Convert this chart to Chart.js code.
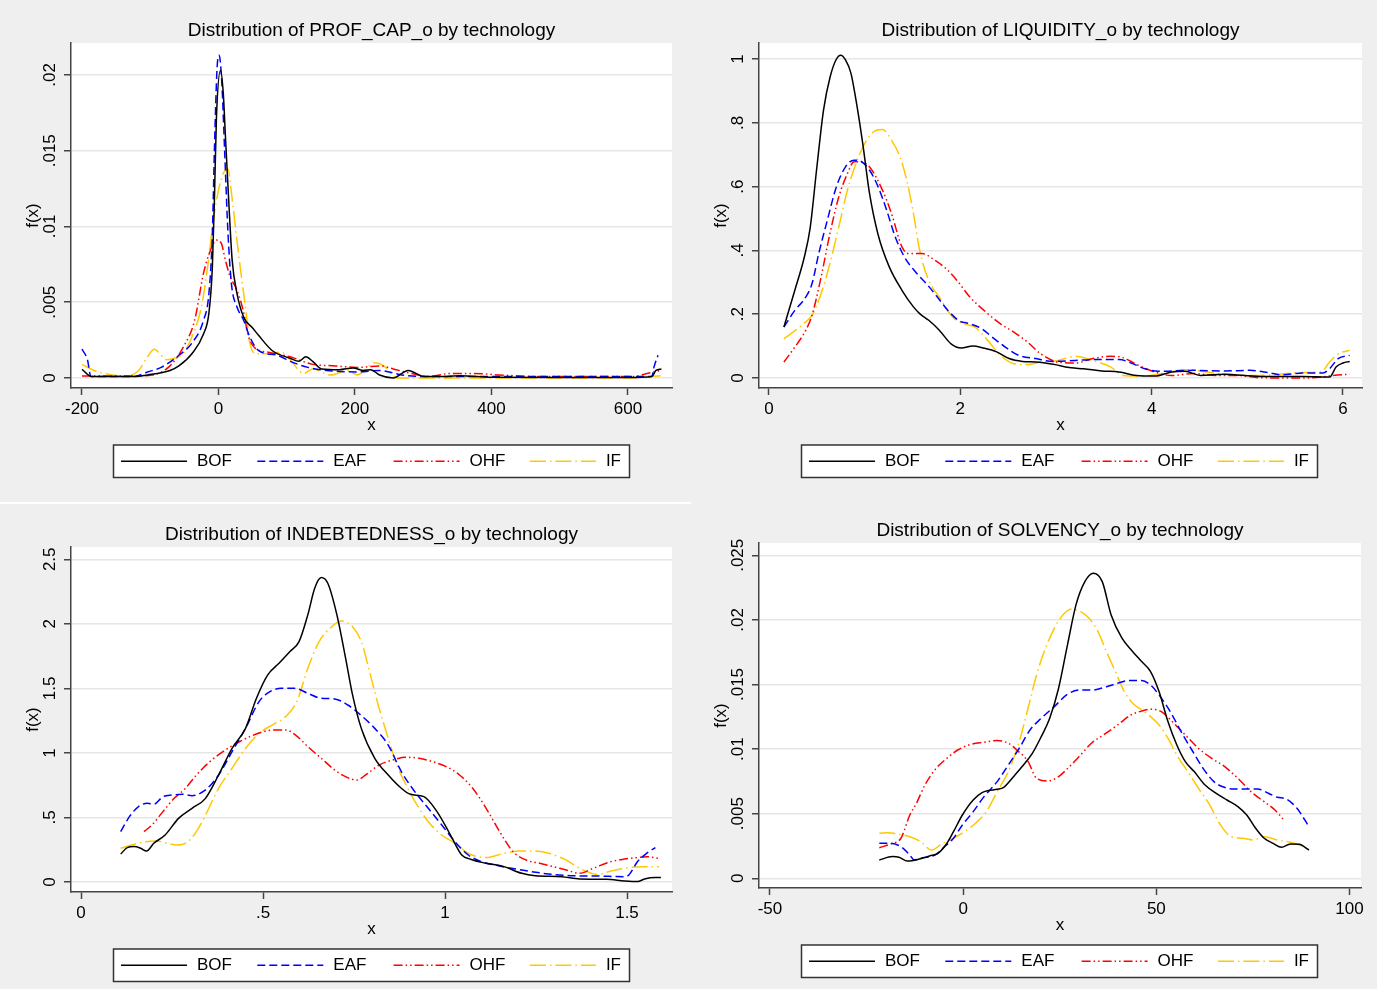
<!DOCTYPE html>
<html><head><meta charset="utf-8">
<script src="https://cdn.jsdelivr.net/npm/chart.js@4.4.1/dist/chart.umd.min.js"></script>
<style>
html,body{margin:0;padding:0;background:#efefef;}
body{width:1377px;height:989px;position:relative;overflow:hidden;}
canvas{position:absolute;}
#seam{position:absolute;left:0;top:502px;width:691px;height:2px;background:#fff;}
</style></head><body>
<div id="seam"></div>
<canvas id="c1" width="690" height="500" style="left:0;top:0"></canvas>
<canvas id="c2" width="689" height="500" style="left:688px;top:0"></canvas>
<canvas id="c3" width="690" height="485" style="left:0;top:504px"></canvas>
<canvas id="c4" width="689" height="489" style="left:688px;top:500px"></canvas>
<script>
// ---------- data ----------
const seriesNames = ['BOF','EAF','OHF','IF'];
const panelTitles = ['Distribution of PROF_CAP_o by technology','Distribution of LIQUIDITY_o by technology','Distribution of INDEBTEDNESS_o by technology','Distribution of SOLVENCY_o by technology'];

const profXTicks = [-200,0,200,400,600];
const profYTicks = [0,0.005,0.01,0.015,0.02];
const liqXTicks = [0,2,4,6];
const liqYTicks = [0,0.2,0.4,0.6,0.8,1];
const indXTicks = [0,0.5,1,1.5];
const indYTicks = [0,0.5,1,1.5,2,2.5];
const solXTicks = [-50,0,50,100];
const solYTicks = [0,0.005,0.01,0.015,0.02,0.025];

const profBOF = [[-200,0.00057],[-186,0.0001],[-124,0.0001],[-104,0.0002],[-71,0.0005],[-58,0.0008],[-39,0.0016],[-22,0.0029],[-14,0.0043],[-9,0.0073],[-6,0.0117],[-3,0.0172],[3,0.0203],[7,0.0188],[10,0.0161],[15,0.0117],[20,0.0078],[27,0.0056],[37,0.0040],[50,0.0033],[59,0.0028],[79,0.0018],[105,0.0013],[118,0.0011],[128,0.0014],[138,0.0011],[151,0.0006],[177,0.00055],[197,0.00066],[213,0.0005],[223,0.00055],[236,0.0002],[256,0.0],[278,0.0005],[301,0.0001],[334,0.0001],[354,0.00015],[400,0.00005],[500,0.00003],[600,0.00003],[635,0.0001],[641,0.0005],[649,0.0006]];
const profEAF = [[-200,0.0019],[-192,0.0012],[-187,0.0001],[-124,0.0001],[-104,0.0004],[-84,0.0007],[-58,0.0015],[-39,0.0023],[-22,0.0038],[-14,0.0056],[-9,0.0095],[-6,0.015],[-2,0.0205],[1,0.0213],[5,0.0194],[9,0.015],[14,0.0095],[19,0.0062],[27,0.0047],[37,0.0038],[46,0.0027],[59,0.0018],[86,0.0015],[105,0.0011],[131,0.0007],[158,0.0005],[203,0.0004],[236,0.0005],[269,0.0002],[301,0.0001],[400,0.0001],[500,0.0001],[600,0.0001],[635,0.0001],[638,0.0007],[644,0.0015]];
const profOHF = [[-200,0.00013],[-124,0.00013],[-97,0.0002],[-71,0.0008],[-52,0.002],[-35,0.0038],[-22,0.0069],[-12,0.0084],[-3,0.0091],[4,0.0089],[10,0.0078],[17,0.0067],[27,0.0058],[37,0.0043],[43,0.0029],[53,0.002],[73,0.0017],[105,0.0014],[138,0.0009],[171,0.0008],[203,0.0007],[236,0.0008],[256,0.0006],[282,0.0003],[308,0.0001],[340,0.0003],[373,0.0003],[412,0.0002],[465,0.0001],[608,0.0001],[628,0.0003],[648,0.0005]];
const profIF = [[-200,0.0009],[-182,0.0005],[-156,0.0002],[-137,0.0001],[-117,0.0005],[-104,0.0014],[-94,0.0019],[-88,0.0017],[-75,0.0012],[-65,0.0013],[-52,0.0016],[-39,0.0027],[-25,0.0047],[-16,0.0073],[-7,0.0106],[1,0.0126],[7,0.0135],[14,0.0138],[19,0.0122],[27,0.0091],[33,0.0069],[40,0.0045],[46,0.0023],[56,0.0016],[73,0.0016],[92,0.0017],[105,0.0012],[125,0.0003],[138,0.0006],[164,0.0002],[190,0.0005],[203,0.0002],[229,0.001],[242,0.0008],[262,0.0],[400,0.0],[595,0.0],[648,0.00015]];

const liqBOF = [[0.156,0.16],[0.27,0.275],[0.37,0.38],[0.43,0.47],[0.5,0.66],[0.57,0.84],[0.64,0.945],[0.705,1.0],[0.75,1.012],[0.8,0.997],[0.857,0.955],[0.91,0.87],[0.98,0.735],[1.05,0.58],[1.14,0.45],[1.255,0.35],[1.39,0.275],[1.51,0.223],[1.575,0.202],[1.67,0.181],[1.78,0.15],[1.9,0.108],[2.01,0.094],[2.13,0.1],[2.24,0.094],[2.38,0.082],[2.51,0.061],[2.65,0.052],[2.79,0.05],[2.97,0.043],[3.16,0.032],[3.29,0.029],[3.48,0.022],[3.66,0.019],[3.84,0.008],[4.03,0.006],[4.21,0.019],[4.35,0.021],[4.51,0.008],[4.76,0.012],[5.13,0.005],[5.58,0.005],[5.86,0.003],[5.93,0.035],[6.0,0.047],[6.07,0.052]];
const liqEAF = [[0.156,0.16],[0.27,0.212],[0.385,0.254],[0.45,0.296],[0.52,0.39],[0.61,0.495],[0.705,0.6],[0.8,0.662],[0.89,0.683],[0.957,0.68],[1.05,0.652],[1.14,0.6],[1.23,0.526],[1.32,0.442],[1.415,0.38],[1.53,0.333],[1.645,0.296],[1.76,0.254],[1.87,0.212],[1.99,0.179],[2.1,0.17],[2.22,0.155],[2.33,0.129],[2.47,0.097],[2.61,0.071],[2.79,0.061],[2.97,0.052],[3.2,0.055],[3.43,0.058],[3.66,0.058],[3.8,0.045],[3.93,0.029],[4.07,0.021],[4.44,0.024],[4.76,0.022],[5.03,0.024],[5.22,0.017],[5.35,0.01],[5.58,0.016],[5.79,0.016],[5.86,0.029],[5.95,0.061],[6.07,0.071]];
const liqOHF = [[0.156,0.05],[0.27,0.097],[0.385,0.15],[0.45,0.197],[0.545,0.317],[0.637,0.453],[0.73,0.568],[0.82,0.641],[0.89,0.678],[0.957,0.678],[1.05,0.662],[1.186,0.589],[1.28,0.516],[1.39,0.411],[1.46,0.39],[1.6,0.39],[1.736,0.369],[1.85,0.343],[1.965,0.306],[2.1,0.254],[2.286,0.202],[2.42,0.17],[2.56,0.144],[2.7,0.113],[2.84,0.076],[3.02,0.05],[3.2,0.047],[3.385,0.061],[3.57,0.068],[3.7,0.064],[3.84,0.043],[4.03,0.019],[4.21,0.008],[4.44,0.014],[4.67,0.008],[4.9,0.008],[5.13,0.001],[5.58,0.0],[5.77,0.003],[5.9,0.008],[6.07,0.012]];
const liqIF = [[0.156,0.123],[0.25,0.144],[0.36,0.17],[0.45,0.197],[0.545,0.265],[0.637,0.359],[0.73,0.474],[0.82,0.589],[0.91,0.673],[1.0,0.735],[1.095,0.772],[1.186,0.779],[1.28,0.746],[1.37,0.693],[1.44,0.62],[1.51,0.516],[1.575,0.4],[1.67,0.306],[1.78,0.254],[1.92,0.191],[2.03,0.17],[2.15,0.16],[2.286,0.118],[2.42,0.071],[2.56,0.045],[2.7,0.042],[2.84,0.05],[3.02,0.055],[3.2,0.068],[3.385,0.055],[3.57,0.035],[3.7,0.008],[3.89,0.006],[4.12,0.014],[4.35,0.026],[4.58,0.019],[4.8,0.01],[5.13,0.008],[5.58,0.017],[5.77,0.019],[5.86,0.05],[5.95,0.076],[6.07,0.087]];

const indBOF = [[0.109,0.217],[0.127,0.266],[0.146,0.274],[0.164,0.261],[0.18,0.24],[0.2,0.3],[0.231,0.364],[0.268,0.493],[0.305,0.571],[0.342,0.648],[0.378,0.829],[0.415,1.036],[0.452,1.19],[0.482,1.423],[0.513,1.604],[0.544,1.694],[0.574,1.785],[0.599,1.862],[0.623,2.069],[0.642,2.275],[0.66,2.358],[0.678,2.314],[0.703,2.069],[0.727,1.733],[0.746,1.449],[0.77,1.19],[0.807,0.958],[0.844,0.829],[0.88,0.726],[0.905,0.679],[0.942,0.661],[0.978,0.545],[1.015,0.364],[1.046,0.209],[1.07,0.176],[1.113,0.145],[1.162,0.119],[1.211,0.067],[1.248,0.049],[1.321,0.041],[1.37,0.023],[1.444,0.021],[1.493,0.008],[1.529,0.003],[1.548,0.023],[1.578,0.034],[1.593,0.034]];
const indEAF = [[0.109,0.39],[0.133,0.506],[0.158,0.584],[0.182,0.61],[0.2,0.602],[0.225,0.661],[0.25,0.674],[0.28,0.679],[0.305,0.669],[0.342,0.713],[0.378,0.829],[0.415,1.01],[0.452,1.19],[0.489,1.397],[0.519,1.475],[0.55,1.5],[0.587,1.5],[0.623,1.462],[0.66,1.423],[0.697,1.418],[0.733,1.371],[0.77,1.289],[0.807,1.19],[0.844,1.061],[0.88,0.855],[0.917,0.7],[0.954,0.571],[0.991,0.442],[1.027,0.313],[1.064,0.209],[1.1,0.158],[1.15,0.124],[1.211,0.093],[1.284,0.062],[1.346,0.049],[1.419,0.046],[1.493,0.041],[1.505,0.054],[1.529,0.158],[1.554,0.222],[1.578,0.266]];
const indOHF = [[0.173,0.39],[0.195,0.442],[0.225,0.545],[0.256,0.648],[0.287,0.726],[0.317,0.829],[0.354,0.932],[0.39,1.01],[0.427,1.074],[0.464,1.126],[0.501,1.165],[0.538,1.178],[0.562,1.178],[0.587,1.144],[0.623,1.049],[0.66,0.958],[0.697,0.868],[0.727,0.816],[0.758,0.79],[0.782,0.829],[0.819,0.906],[0.856,0.945],[0.893,0.966],[0.929,0.958],[0.966,0.932],[1.003,0.894],[1.04,0.829],[1.076,0.726],[1.113,0.571],[1.15,0.39],[1.187,0.235],[1.223,0.17],[1.26,0.145],[1.297,0.119],[1.333,0.093],[1.37,0.067],[1.407,0.106],[1.456,0.158],[1.493,0.178],[1.529,0.189],[1.554,0.196],[1.588,0.183]];
const indIF = [[0.109,0.261],[0.146,0.292],[0.176,0.312],[0.207,0.318],[0.238,0.3],[0.262,0.287],[0.287,0.3],[0.317,0.39],[0.342,0.519],[0.378,0.726],[0.415,0.881],[0.452,1.036],[0.489,1.152],[0.525,1.216],[0.562,1.281],[0.593,1.397],[0.623,1.655],[0.654,1.862],[0.684,1.965],[0.715,2.022],[0.746,1.978],[0.77,1.862],[0.795,1.604],[0.819,1.346],[0.844,1.113],[0.868,0.906],[0.893,0.752],[0.923,0.597],[0.954,0.467],[0.991,0.364],[1.027,0.3],[1.064,0.222],[1.113,0.189],[1.162,0.222],[1.205,0.24],[1.248,0.24],[1.284,0.222],[1.333,0.17],[1.37,0.106],[1.419,0.059],[1.456,0.085],[1.493,0.106],[1.542,0.119],[1.588,0.119]];

const solBOF = [[-21.7,0.00142],[-18.3,0.00168],[-16.6,0.00163],[-14.4,0.00134],[-11.6,0.00147],[-8.7,0.00173],[-6.5,0.00193],[-4.2,0.00271],[-2.5,0.00361],[-0.2,0.0049],[2.6,0.00606],[4.9,0.00663],[6.6,0.00679],[8.8,0.00689],[10.5,0.00704],[13.4,0.008],[15.6,0.00877],[17.9,0.00967],[20.2,0.01096],[22.4,0.01238],[24.7,0.01471],[27,0.01806],[29.2,0.02116],[31.5,0.02296],[33.7,0.02361],[36,0.02296],[38.3,0.02038],[41.1,0.01858],[43.9,0.01754],[46.2,0.01677],[48.5,0.016],[50.7,0.01445],[53,0.01213],[55.3,0.01032],[57.5,0.00903],[59.8,0.00826],[62.6,0.00722],[65.5,0.00658],[68.3,0.00606],[71.1,0.00555],[73.4,0.0049],[75.7,0.00387],[77.9,0.0031],[80.2,0.00271],[82.4,0.0024],[84.7,0.00266],[87,0.00263],[89.5,0.00219]];
const solEAF = [[-21.7,0.00271],[-18.9,0.00271],[-16.1,0.00245],[-13.8,0.00181],[-12.7,0.00142],[-10.4,0.0016],[-7.6,0.00175],[-4.8,0.00245],[-2.5,0.0031],[-0.2,0.00413],[2.6,0.00516],[5.4,0.00632],[8.8,0.00748],[11.7,0.00877],[14.5,0.01006],[17.3,0.01148],[20.2,0.01238],[23.6,0.01329],[27,0.01424],[30.4,0.01458],[33.7,0.01458],[37.1,0.01483],[40,0.01509],[42.8,0.0153],[46.2,0.0153],[48.5,0.01496],[50.7,0.01419],[53.6,0.0129],[56.4,0.01135],[59.2,0.00993],[62.1,0.00851],[64.9,0.00748],[67.2,0.00709],[70,0.00691],[73.4,0.00691],[76.2,0.00691],[79,0.00658],[81.3,0.00627],[83.6,0.00614],[86.4,0.00542],[89.5,0.004]];
const solOHF = [[-21.7,0.00237],[-18.3,0.00271],[-16.1,0.0031],[-13.8,0.0049],[-12.1,0.0058],[-9.9,0.00722],[-7,0.00851],[-4.2,0.00929],[-1.4,0.00993],[2,0.01037],[5.4,0.01053],[8.8,0.01066],[11.7,0.01045],[13.9,0.00993],[16.8,0.00903],[19,0.00774],[21.9,0.00753],[24.7,0.00787],[27.5,0.00864],[30.4,0.00955],[33.2,0.01045],[36.6,0.01115],[40,0.01187],[43.4,0.01264],[46.2,0.01295],[48.5,0.01308],[51.3,0.0129],[54.1,0.01213],[57.5,0.01109],[60.9,0.01006],[64.3,0.00929],[67.7,0.00864],[71.1,0.00774],[74.5,0.00671],[77.9,0.00593],[80.7,0.00529],[83,0.00451]];
const solIF = [[-21.7,0.00348],[-19.5,0.00353],[-16.6,0.00341],[-13.8,0.00322],[-11,0.00284],[-8.2,0.00219],[-5.3,0.00271],[-2.5,0.0031],[0.3,0.00361],[3.2,0.00426],[6,0.00516],[8.8,0.00671],[11.7,0.00826],[14.5,0.01058],[16.8,0.01316],[19,0.01574],[21.3,0.0178],[23.6,0.01935],[25.8,0.02038],[28.1,0.02085],[30.4,0.02064],[32.6,0.02012],[34.9,0.01909],[37.1,0.01754],[39.4,0.016],[41.7,0.01445],[43.9,0.01354],[46.2,0.01303],[48.5,0.01251],[50.7,0.01187],[53,0.01084],[55.3,0.00955],[58.1,0.00826],[60.9,0.00697],[63.8,0.00568],[66.6,0.00413],[69.4,0.00322],[72.3,0.0031],[75.1,0.00297],[77.9,0.00322],[81.3,0.00297],[84.7,0.00279],[87,0.00258],[89.5,0.00224]];

// ---------- styles ----------
const FONT = "'Liberation Sans', Arial, Helvetica, sans-serif";
const seriesColors = ['#000000','#0000ff','#ff0000','#ffc800'];
const seriesDashes = [[],[8,4],[9,3,1.5,3,1.5,3],[16,4,1.5,4]];

Chart.defaults.font.family = FONT;
Chart.defaults.color = '#000';

function stataFmt(v){
  let s = String(Math.round(v*1e6)/1e6);
  if (s.startsWith('0.')) s = s.slice(1);
  else if (s.startsWith('-0.')) s = '-' + s.slice(2);
  return s;
}

const plotBg = {
  id:'plotBg',
  beforeDraw(chart){
    const {ctx, chartArea:a} = chart;
    ctx.save(); ctx.fillStyle = '#ffffff';
    ctx.fillRect(a.left, a.top, a.right - a.left, a.bottom - a.top);
    ctx.restore();
  }
};

const boxLegend = {
  id:'boxLegend',
  afterDraw(chart){
    const ctx = chart.ctx, a = chart.chartArea;
    const left = a.left + 42.5, top = a.bottom + 57, w = 516, h = 32.5;
    ctx.save();
    ctx.fillStyle = '#fff'; ctx.fillRect(left, top, w, h);
    ctx.strokeStyle = '#333'; ctx.lineWidth = 1.5; ctx.strokeRect(left, top, w, h);
    const cy = top + h/2;
    ctx.font = '17px ' + FONT;
    ctx.textBaseline = 'middle'; ctx.textAlign = 'left';
    chart.data.datasets.forEach((ds, i) => {
      const x0 = left + 7.5 + i*136.3;
      ctx.beginPath();
      ctx.setLineDash(ds.borderDash || []);
      ctx.strokeStyle = ds.borderColor; ctx.lineWidth = 1.5;
      ctx.moveTo(x0, cy); ctx.lineTo(x0 + 66, cy); ctx.stroke();
      ctx.setLineDash([]);
      ctx.fillStyle = '#000';
      ctx.fillText(ds.label, x0 + 76, cy + 0.5);
    });
    ctx.restore();
  }
};

const panels = [
  {id:'c1', title:panelTitles[0], series:[profBOF,profEAF,profOHF,profIF], xTicks:profXTicks, yTicks:profYTicks, xMin:-216.1, xMax:664.5, yMin:-0.00066, yMax:0.02211, yPad:-2.8, padRight:18},
  {id:'c2', title:panelTitles[1], series:[liqBOF,liqEAF,liqOHF,liqIF], xTicks:liqXTicks, yTicks:liqYTicks, xMin:-0.1045, xMax:6.199, yMin:-0.0313, yMax:1.0502, yPad:6.6, padRight:15},
  {id:'c3', title:panelTitles[2], series:[indBOF,indEAF,indOHF,indIF], xTicks:indXTicks, yTicks:indYTicks, xMin:-0.0275, xMax:1.6236, yMin:-0.0775, yMax:2.595, yPad:2.2, padRight:18},
  {id:'c4', title:panelTitles[3], series:[solBOF,solEAF,solOHF,solIF], xTicks:solXTicks, yTicks:solYTicks, xMin:-52.84, xMax:102.97, yMin:-0.00075, yMax:0.02595, yPad:-2.8, padRight:16}
];

panels.forEach(p => {
  const cv = document.getElementById(p.id);
  new Chart(cv, {
    type:'line',
    data:{
      datasets: p.series.map((s, i) => ({
        label: seriesNames[i],
        data: s.map(d => ({x:d[0], y:d[1]})),
        borderColor: seriesColors[i],
        borderDash: seriesDashes[i],
        borderWidth: 1.5,
        pointRadius: 0,
        fill: false,
        cubicInterpolationMode: 'monotone'
      }))
    },
    options:{
      responsive:false,
      animation:false,
      events:[],
      layout:{autoPadding:false, padding:{left:0, top:0, right:p.padRight, bottom:cv.height - 438}},
      plugins:{
        legend:{display:false},
        tooltip:{enabled:false},
        title:{display:true, text:p.title, fullSize:false, color:'#000',
               font:{size:19, weight:'normal'}, padding:{top:19, bottom:1.2}}
      },
      scales:{
        x:{
          type:'linear', min:p.xMin, max:p.xMax,
          afterBuildTicks: sc => { sc.ticks = p.xTicks.map(v => ({value:v})); },
          afterFit: sc => { sc.height = 50; },
          ticks:{autoSkip:false, maxRotation:0, minRotation:0, padding:4, color:'#000',
                 font:{size:17}, callback:v => stataFmt(v)},
          grid:{drawOnChartArea:false, drawTicks:true, tickLength:7, tickColor:'#444', tickWidth:1.5},
          border:{display:true, color:'#444', width:1.5},
          title:{display:true, text:'x', color:'#000', font:{size:17}, padding:{top:0, bottom:2}}
        },
        y:{
          type:'linear', min:p.yMin, max:p.yMax,
          afterBuildTicks: sc => { sc.ticks = p.yTicks.map(v => ({value:v})); },
          afterFit: sc => { sc.width = 71; },
          ticks:{autoSkip:false, minRotation:90, maxRotation:90, crossAlign:'center', padding:p.yPad,
                 color:'#000', font:{size:17}, callback:v => stataFmt(v)},
          grid:{drawOnChartArea:true, color:'#e6e6e6', lineWidth:1.5, drawTicks:true, tickLength:7, tickColor:'#444', tickWidth:1.5},
          border:{display:true, color:'#444', width:1.5},
          title:{display:true, text:'f(x)', color:'#000', font:{size:17}, padding:{top:23, bottom:0}}
        }
      }
    },
    plugins:[plotBg, boxLegend]
  });
});
</script>
</body></html>
